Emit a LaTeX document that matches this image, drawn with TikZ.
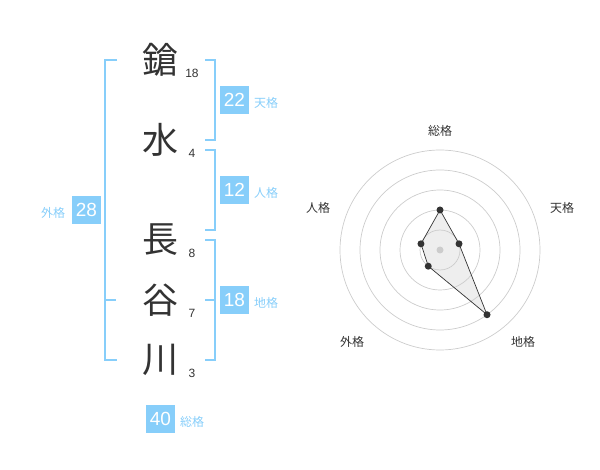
\documentclass[tikz,border=0pt]{standalone}
\usepackage{fontspec}
\setmainfont{Noto Sans CJK JP}
\newfontfamily\digitfont{Liberation Sans}
\definecolor{skyb}{RGB}{135,206,250}
\definecolor{ink}{RGB}{51,51,51}
\definecolor{ringc}{RGB}{204,204,204}
\definecolor{polyfill}{RGB}{238,238,238}
\begin{document}
\begin{tikzpicture}[x=1pt,y=-1pt,
  kanji/.style={font=\fontsize{36}{36}\selectfont, text=ink, inner sep=0pt},
  strokes/.style={font=\digitfont\fontsize{12}{12}\selectfont, text=ink, inner sep=0pt},
  gbox/.style={fill=skyb, text=white, minimum width=29pt, minimum height=28pt, inner sep=0pt, font=\digitfont\fontsize{19}{19}\selectfont},
  glabel/.style={text=skyb, font=\fontsize{12}{12}\selectfont, inner sep=0pt},
  bracket/.style={draw=skyb, line width=2pt},
  ring/.style={draw=ringc, line width=0.7pt},
  axislabel/.style={text=ink, font=\fontsize{12}{12}\selectfont, inner sep=0pt},
  datadot/.style={circle, fill=ink, minimum size=7pt, inner sep=0pt}]
\useasboundingbox (0,0) rectangle (600,470);
% characters
\node[kanji] (k1) at (160,60) {鎗};
\node[kanji] (k2) at (160,140) {水};
\node[kanji] (k3) at (160,240) {長};
\node[kanji] (k4) at (160,300) {谷};
\node[kanji] (k5) at (160,360) {川};
\node[strokes] (n1) at (192,73) {18};
\node[strokes] (n2) at (192,153) {4};
\node[strokes] (n3) at (192,253) {8};
\node[strokes] (n4) at (192,313) {7};
\node[strokes] (n5) at (192,373) {3};
% left bracket (外格)
\draw[bracket] (117,60) -- (105,60) -- (105,360) -- (117,360);
\draw[bracket] (105,300) -- (116,300);
\node[gbox] (gai) at (86.5,210) {28};
\node[glabel] (gail) at (53,213) {外格};
% right brackets
\draw[bracket] (205,60) -- (215,60) -- (215,140) -- (205,140);
\node[gbox] (ten) at (234.5,100) {22};
\node[glabel] (tenl) at (266,103) {天格};
\draw[bracket] (205,150) -- (215,150) -- (215,230) -- (205,230);
\node[gbox] (jin) at (234.5,190) {12};
\node[glabel] (jinl) at (266,193) {人格};
\draw[bracket] (205,240) -- (215,240) -- (215,360) -- (205,360);
\draw[bracket] (205,300) -- (215,300);
\node[gbox] (chi) at (234.5,300) {18};
\node[glabel] (chil) at (266,303) {地格};
\node[gbox] (sou) at (160.5,419) {40};
\node[glabel] (soul) at (192,422) {総格};
% radar chart
\begin{scope}[shift={(440,250)}]
  \coordinate (ps) at (-90:40);
  \coordinate (pt) at (-18:20);
  \coordinate (pc) at (54:80);
  \coordinate (pg) at (126:20);
  \coordinate (pj) at (-162:20);
  \fill[polyfill] (ps) -- (pt) -- (pc) -- (pg) -- (pj) -- cycle;
  \foreach \r in {20,40,60,80,100} \draw[ring] (0,0) circle[radius=\r];
  \fill[ringc] (0,0) circle[radius=3.5];
  \draw[ink, line width=0.7pt] (ps) -- (pt) -- (pc) -- (pg) -- (pj) -- cycle;
  \foreach \p in {ps,pt,pc,pg,pj} \node[datadot] (d\p) at (\p) {};
\end{scope}
\node[axislabel] (ls) at (440,131) {総格};
\node[axislabel] (lt) at (562,208) {天格};
\node[axislabel] (lc) at (523,342) {地格};
\node[axislabel] (lg) at (352,342) {外格};
\node[axislabel] (lj) at (318,208) {人格};
\end{tikzpicture}
\end{document}
